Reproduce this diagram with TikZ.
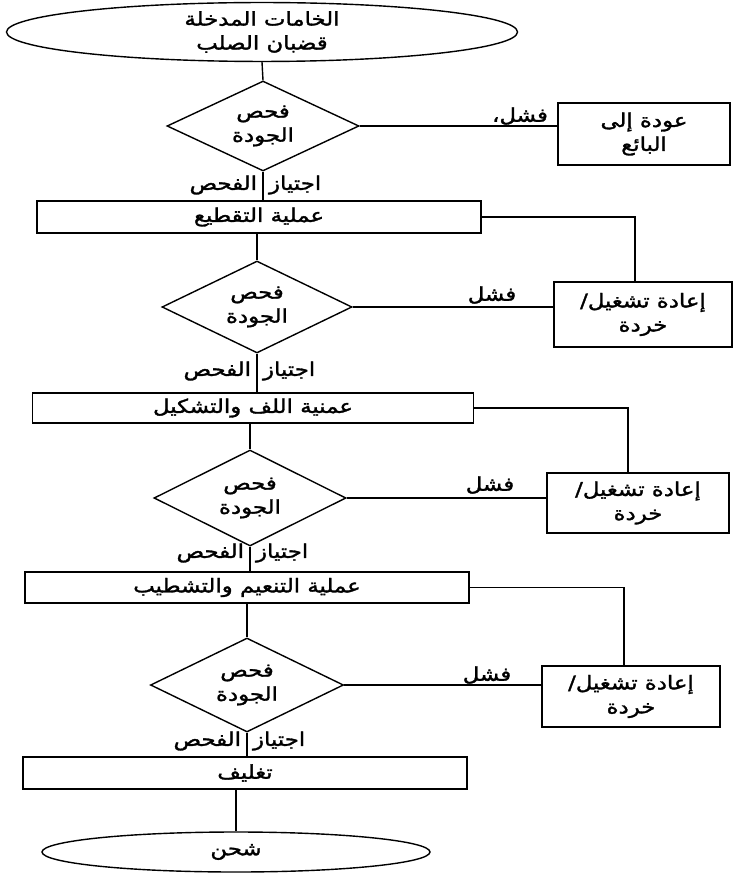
\documentclass[tikz,border=0pt]{standalone}
\usepackage{fontspec}
\usetikzlibrary{shapes.geometric}
\TeXXeTstate=1
\newfontfamily\arabicfont[Script=Arabic,FakeBold=1.6,FakeStretch=1.2]{DejaVu Sans}
% one line of Arabic, set right to left
\newcommand{\rl}[1]{\beginR #1\endR}
% "pass" label: the two words sit on either side of the main line
\newcommand{\passtext}{\rl{\makebox[100pt][r]{\rl{اجتياز}}\hspace{12pt}\makebox[100pt][l]{\rl{الفحص}}}}

\begin{document}
\begin{tikzpicture}[x=1pt,y=-1pt,
  flow/.style={draw, line width=1.4pt, inner sep=0pt,
    font=\arabicfont\fontsize{19}{24}\selectfont, align=center},
  terminal/.style={flow, ellipse},
  check/.style={flow, diamond, aspect=2.1},
  process/.style={flow, rectangle},
  conn/.style={line width=1.4pt},
  note/.style={font=\arabicfont\fontsize{19}{21}\selectfont, inner sep=0pt}
]
\useasboundingbox (0,0) rectangle (733,874);

% raw material
\node[terminal, minimum width=511, minimum height=55] (in) at (262,32)
  {\rl{الخامات المدخلة}\\ \rl{قضبان الصلب}};

% first inspection
\node[check, minimum width=192, minimum height=90] (d1) at (263,126)
  {\rl{فحص}\\ \rl{الجودة}};
\node[process, minimum width=172, minimum height=62] (vendor) at (644,134)
  {\rl{عودة إلى}\\ \rl{البائع}};
\node[note] (f1) at (520,116) {\rl{فشل،}};
\node[note] (p1) at (263,185) {\passtext};

% cutting
\node[process, minimum width=444, minimum height=32] (b1) at (259,217)
  {\rl{عملية التقطيع}};
\node[check, minimum width=190, minimum height=92] (d2) at (257,307)
  {\rl{فحص}\\ \rl{الجودة}};
\node[process, minimum width=178, minimum height=65] (r1) at (643,314.5)
  {\rl{إعادة تشغيل/}\\ \rl{خردة}};
\node[note] (f2) at (492,295) {\rl{فشل}};
\node[note] (p2) at (257,371) {\passtext};

% rolling and forming
\node[process, minimum width=441, minimum height=30] (b2) at (253,408)
  {\rl{عمنية اللف والتشكيل}};
\node[check, minimum width=192, minimum height=96] (d3) at (250,498)
  {\rl{فحص}\\ \rl{الجودة}};
\node[process, minimum width=182, minimum height=60] (r2) at (638,503)
  {\rl{إعادة تشغيل/}\\ \rl{خردة}};
\node[note] (f3) at (490,485) {\rl{فشل}};
\node[note] (p3) at (250,553) {\passtext};

% finishing
\node[process, minimum width=444, minimum height=31] (b3) at (247,587.5)
  {\rl{عملية التنعيم والتشطيب}};
\node[check, minimum width=193, minimum height=94] (d4) at (247,685)
  {\rl{فحص}\\ \rl{الجودة}};
\node[process, minimum width=178, minimum height=61] (r3) at (631,696.5)
  {\rl{إعادة تشغيل/}\\ \rl{خردة}};
\node[note] (f4) at (487,675) {\rl{فشل}};
\node[note] (p4) at (247,741) {\passtext};

% packing and shipping
\node[process, minimum width=444, minimum height=32] (b4) at (245,773)
  {\rl{تغليف}};
\node[terminal, minimum width=388, minimum height=40] (out) at (236,852)
  {\rl{شحن}};

% turning points of the rework loops
\coordinate (k1) at (635,0);
\coordinate (k2) at (628,0);
\coordinate (k3) at (624,0);

% main line
\draw[conn] (in.south) -- (d1.north);
\draw[conn] (d1.south) -- (b1.north -| d1.south);
\draw[conn] (b1.south -| d2.north) -- (d2.north);
\draw[conn] (d2.south) -- (b2.north -| d2.south);
\draw[conn] (b2.south -| d3.north) -- (d3.north);
\draw[conn] (d3.south) -- (b3.north -| d3.south);
\draw[conn] (b3.south -| d4.north) -- (d4.north);
\draw[conn] (d4.south) -- (b4.north -| d4.south);
\draw[conn] (b4.south -| out.north) -- (out.north);

% failed checks
\draw[conn] (d1.east) -- (d1.east -| vendor.west);
\draw[conn] (d2.east) -- (d2.east -| r1.west);
\draw[conn] (d3.east) -- (d3.east -| r2.west);
\draw[conn] (d4.east) -- (d4.east -| r3.west);

% rework loops
\draw[conn] (b1.east) -- (b1.east -| k1) -- (r1.north -| k1);
\draw[conn] (b2.east) -- (b2.east -| k2) -- (r2.north -| k2);
\draw[conn] (b3.east) -- (b3.east -| k3) -- (r3.north -| k3);
\end{tikzpicture}
\end{document}
